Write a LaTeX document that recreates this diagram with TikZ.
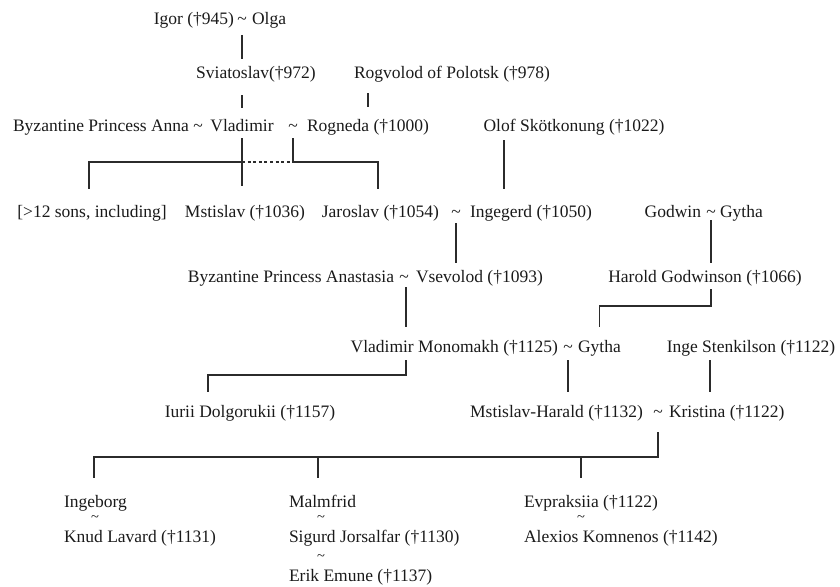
\documentclass[tikz,border=0pt]{standalone}
\usepackage{fontspec}
\setmainfont{Liberation Serif}
\definecolor{txt}{HTML}{1A1A1A}
\definecolor{lc}{HTML}{2B2B2B}
\begin{document}
\begin{tikzpicture}[x=1pt,y=-1pt,
  every node/.style={inner sep=0pt,outer sep=0pt,text=txt,font=\fontsize{17.5}{21}\selectfont},
  stl/.style={font=\fontsize{14.5}{14.5}\selectfont,anchor=base},
  ln/.style={draw=lc,line width=1.3pt},
  dl/.style={ln,dash pattern=on 3pt off 2.6pt}]
\useasboundingbox (0,0) rectangle (840,586);
% row 1
\node[anchor=base] (t1) at (242,25) {\textasciitilde};
\node[anchor=base east] (igor) at (234,25) {Igor (†945)};
\node[anchor=base west] (olga) at (252,25) {Olga};
% row 2
\node[anchor=base] (sv) at (256,78) {Sviatoslav(†972)};
\node[anchor=base] (rog) at (452,78) {Rogvolod of Polotsk (†978)};
% row 3
\node[anchor=base] (vlad) at (242,131) {Vladimir};
\node[anchor=base] (t3a) at (198,131) {\textasciitilde};
\node[anchor=base east] (anna) at (189,131) {Byzantine Princess Anna};
\node[anchor=base] (t3b) at (293,131) {\textasciitilde};
\node[anchor=base west] (rogn) at (307,131) {Rogneda (†1000)};
\node[anchor=base] (olof) at (574,131) {Olof Skötkonung (†1022)};
% row 4
\node[anchor=base] (sons) at (92,217) {[>12 sons, including]};
\node[anchor=base] (mst) at (245,217) {Mstislav (†1036)};
\node[anchor=base east] (jar) at (439,217) {Jaroslav (†1054)};
\node[anchor=base] (t4) at (456,217) {\textasciitilde};
\node[anchor=base west] (ing) at (470,217) {Ingegerd (†1050)};
\node[anchor=base east] (godw) at (701,217) {Godwin};
\node[anchor=base] (t4b) at (711,217) {\textasciitilde};
\node[anchor=base west] (gyt1) at (720,217) {Gytha};
% row 5
\node[anchor=base east] (anas) at (394,282) {Byzantine Princess Anastasia};
\node[anchor=base] (t5) at (404,282) {\textasciitilde};
\node[anchor=base west] (vsev) at (416,282) {Vsevolod (†1093)};
\node[anchor=base] (har) at (705,282) {Harold Godwinson (†1066)};
% row 6
\node[anchor=base east] (mono) at (558,352) {Vladimir Monomakh (†1125)};
\node[anchor=base] (t6) at (568,352) {\textasciitilde};
\node[anchor=base west] (gyt2) at (578,352) {Gytha};
\node[anchor=base] (inge) at (751,352) {Inge Stenkilson (†1122)};
% row 7
\node[anchor=base] (iur) at (250,417) {Iurii Dolgorukii (†1157)};
\node[anchor=base east] (mh) at (643,417) {Mstislav-Harald (†1132)};
\node[anchor=base] (t7) at (658,417) {\textasciitilde};
\node[anchor=base west] (kris) at (669,417) {Kristina (†1122)};
% row 8
\node[anchor=base west] (ingb) at (64,507) {Ingeborg};
\node[stl] (s1) at (95,521) {\textasciitilde};
\node[anchor=base west] (knud) at (64,542) {Knud Lavard (†1131)};
\node[anchor=base west] (malm) at (289,507) {Malmfrid};
\node[stl] (s2) at (321,521) {\textasciitilde};
\node[anchor=base west] (sig) at (289,542) {Sigurd Jorsalfar (†1130)};
\node[stl] (s3) at (321,560) {\textasciitilde};
\node[anchor=base west] (erik) at (289,581) {Erik Emune (†1137)};
\node[anchor=base west] (evp) at (524,507) {Evpraksiia (†1122)};
\node[stl] (s4) at (581,521) {\textasciitilde};
\node[anchor=base west] (alex) at (524,542) {Alexios Komnenos (†1142)};
% columns
\coordinate (cSons) at (89,0);
\coordinate (cJar) at (378,0);
\coordinate (cIng) at (504,0);
\coordinate (cMon) at (406,0);
\coordinate (cIur) at (208,0);
\coordinate (cInge) at (710,0);
\coordinate (cC1) at (94,0);
\coordinate (cC2) at (318,0);
\coordinate (cC3) at (581,0);
% connectors
\draw[ln] ([yshift=-10pt]t1.base) -- ([yshift=19pt]sv.base -| t1);
\draw[ln] ([yshift=-17pt]sv.base -| vlad) -- ([yshift=23pt]vlad.base);
\draw[ln] ([yshift=-15pt]rog.base -| rogn) -- ([yshift=24pt]rogn.base);
\draw[ln] ([yshift=-9pt]olof.base -| cIng) -- ([yshift=28pt]ing.base -| cIng);
\draw[ln] ([yshift=-7pt]vlad.base) -- ([yshift=31pt]mst.base -| vlad);
\draw[ln] ([yshift=-7pt]t3b.base) -- ([yshift=-31pt]t3b.base) -| ([yshift=28pt]jar.base -| cJar);
\draw[ln] ([yshift=-31pt]vlad.base) -| ([yshift=28pt]sons.base -| cSons);
\draw[dl] ([yshift=-31pt]vlad.base) -- ([yshift=-31pt]t3b.base);
\draw[ln] ([yshift=-6pt]t4.base) -- ([yshift=19pt]vsev.base -| t4);
\draw[ln] ([yshift=-3pt]t4b.base) -- ([yshift=19pt]har.base -| t4b);
\draw[ln] ([yshift=-7pt]har.base -| t4b) -- ([yshift=-24pt]har.base -| t4b) -| ([yshift=25pt]gyt2.base);
\draw[ln] ([yshift=-5pt]vsev.base -| cMon) -- ([yshift=25pt]mono.base -| cMon);
\draw[ln] ([yshift=-8pt]mono.base -| cMon) -- ([yshift=-23pt]mono.base -| cMon) -| ([yshift=25pt]iur.base -| cIur);
\draw[ln] ([yshift=-8pt]t6.base) -- ([yshift=25pt]mh.base -| t6);
\draw[ln] ([yshift=-8pt]inge.base -| cInge) -- ([yshift=25pt]kris.base -| cInge);
\draw[ln] ([yshift=-15pt]t7.base) -- ([yshift=-40pt]t7.base) -| ([yshift=29pt]ingb.base -| cC1);
\draw[ln] ([yshift=-40pt]t7.base -| cC2) -- ([yshift=29pt]malm.base -| cC2);
\draw[ln] ([yshift=-40pt]t7.base -| cC3) -- ([yshift=29pt]evp.base -| cC3);
\end{tikzpicture}
\end{document}
